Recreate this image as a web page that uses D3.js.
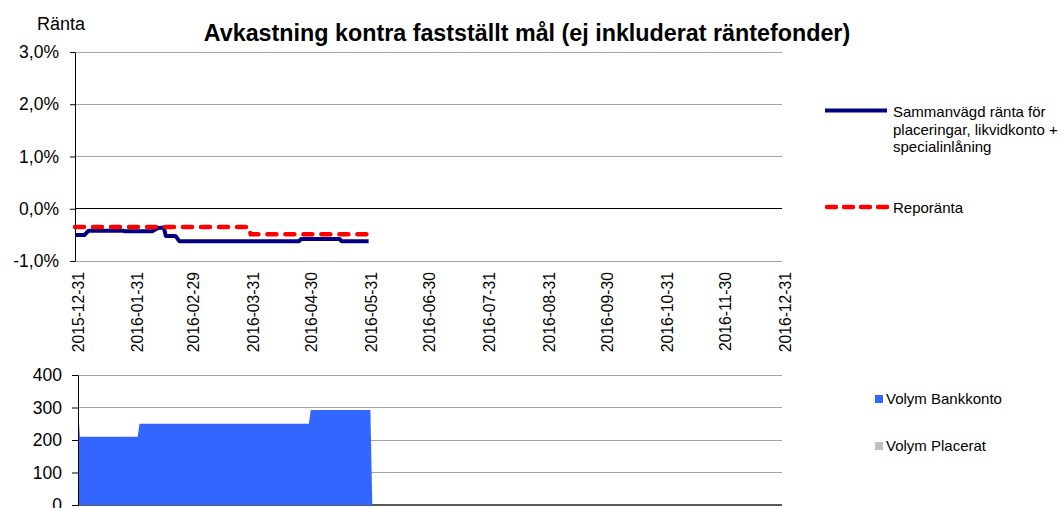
<!DOCTYPE html>
<html><head><meta charset="utf-8">
<script src="https://cdn.jsdelivr.net/npm/d3@7"></script>
<style>
body{margin:0;background:#fff;}
svg{display:block;font-family:"Liberation Sans",Arial,sans-serif;}
</style></head>
<body><svg id="c" width="1063" height="508"></svg>
<script>
// ---- data ----
const title = "Avkastning kontra fastställt mål (ej inkluderat räntefonder)";
const yTitle = "Ränta";
const xTickLabels = ["2015-12-31","2016-01-31","2016-02-29","2016-03-31","2016-04-30","2016-05-31","2016-06-30","2016-07-31","2016-08-31","2016-09-30","2016-10-31","2016-11-30","2016-12-31"];
const rateTicks = [-1, 0, 1, 2, 3];
const volTicks = [0, 100, 200, 300, 400];

const sammanvagdDates = ["2015-12-31","2016-01-05","2016-01-07","2016-01-25","2016-01-26","2016-02-09","2016-02-12","2016-02-15","2016-02-16","2016-02-21","2016-02-23","2016-04-25","2016-04-26","2016-05-16","2016-05-17","2016-05-31"];
const sammanvagdValues = [-0.50,-0.50,-0.42,-0.42,-0.43,-0.43,-0.37,-0.36,-0.52,-0.52,-0.62,-0.62,-0.58,-0.58,-0.62,-0.62];

const repoDates = ["2015-12-31","2016-03-30","2016-03-31","2016-05-31"];
const repoValues = [-0.35,-0.35,-0.49,-0.49];

const volDates = ["2015-12-31","2016-01-01","2016-01-31","2016-02-01","2016-04-29","2016-04-30","2016-05-31","2016-06-01"];
const volBankkonto = [300,210,210,250,250,292,292,0];

const legendTop = [
  {lines:["Sammanvägd ränta för","placeringar, likvidkonto +","specialinlåning"], color:"#000080", dash:null},
  {lines:["Reporänta"], color:"#FF0000", dash:"9,9"}
];
const legendBottom = [
  {label:"Volym Bankkonto", color:"#3366FF"},
  {label:"Volym Placerat", color:"#C0C0C0"}
];

// ---- drawing ----
const parse = d3.utcParse("%Y-%m-%d");
const svg = d3.select("#c");
const xDomain = [parse(xTickLabels[0]), parse(xTickLabels[xTickLabels.length-1])];

// top chart
const xTop = d3.scaleUtc().domain(xDomain).range([75, 782]);
const yTop = d3.scaleLinear().domain([-1, 3]).range([261, 52]);
const fmtPct = d => d.toFixed(1).replace(".", ",") + "%";

svg.append("text").attr("x", 527).attr("y", 41).attr("text-anchor","middle")
  .attr("font-size", 23.3).attr("font-weight","bold").text(title);
svg.append("text").attr("x", 37).attr("y", 30).attr("font-size", 18).text(yTitle);

// gridlines
svg.append("g").selectAll("line").data(rateTicks).join("line")
  .attr("x1", 75).attr("x2", 782)
  .attr("y1", d => yTop(d)).attr("y2", d => yTop(d))
  .attr("stroke", d => d === 0 ? "#000" : "#A6A6A6").attr("stroke-width", 1)
  .attr("shape-rendering","crispEdges");

const yAxT = svg.append("g").attr("transform","translate(75,0)")
  .call(d3.axisLeft(yTop).tickValues(rateTicks).tickFormat(fmtPct).tickSize(5).tickSizeOuter(0));
yAxT.select(".domain").attr("stroke","#000");
yAxT.selectAll(".tick line").attr("stroke","#000");
yAxT.selectAll("text").attr("font-size", 17.5).attr("fill","#000").attr("x", -16)
  .attr("font-family","Liberation Sans, Arial, sans-serif");

// x labels
const xAx = svg.append("g").attr("transform","translate(0,261)")
  .call(d3.axisBottom(xTop).tickValues(xTickLabels.map(parse)).tickFormat(d3.utcFormat("%Y-%m-%d")).tickSize(0));
xAx.select(".domain").remove();
xAx.selectAll("text").attr("font-size", 15.7).attr("fill","#000")
  .attr("font-family","Liberation Sans, Arial, sans-serif")
  .attr("transform","rotate(-90)").attr("text-anchor","end")
  .attr("x", -11).attr("y", 0).attr("dy","0.35em").attr("dx", 0);
xAx.selectAll(".tick").attr("transform", d => `translate(${xTop(d)+3},0)`);

const lineGen = d3.line().x(d => xTop(d[0])).y(d => yTop(d[1]));
const sData = sammanvagdDates.map((d,i) => [parse(d), sammanvagdValues[i]]);
const rData = repoDates.map((d,i) => [parse(d), repoValues[i]]);
svg.append("path").attr("d", lineGen(sData)).attr("fill","none")
  .attr("stroke","#000080").attr("stroke-width",4).attr("stroke-linejoin","round");
svg.append("path").attr("d", lineGen(rData)).attr("fill","none")
  .attr("stroke","#FF0000").attr("stroke-width",4.5).attr("stroke-dasharray","9,9").attr("stroke-linecap","round");

// top legend
const lg = svg.append("g");
lg.append("line").attr("x1",825).attr("x2",887).attr("y1",110.5).attr("y2",110.5)
  .attr("stroke", legendTop[0].color).attr("stroke-width",4);
const t0 = lg.append("text").attr("x",893).attr("y",117).attr("font-size",15);
legendTop[0].lines.forEach((l,i) => t0.append("tspan").attr("x",893).attr("y",117 + i*17.5).text(l));
lg.append("line").attr("x1",827).attr("x2",887).attr("y1",207).attr("y2",207)
  .attr("stroke", legendTop[1].color).attr("stroke-width",4.5).attr("stroke-dasharray","9,8").attr("stroke-linecap","round");
lg.append("text").attr("x",893).attr("y",212.5).attr("font-size",15).text(legendTop[1].lines[0]);

// bottom chart
const xBot = d3.scaleUtc().domain(xDomain).range([78, 782]);
const yBot = d3.scaleLinear().domain([0, 400]).range([505, 375]);
svg.append("g").selectAll("line").data(volTicks).join("line")
  .attr("x1", 78).attr("x2", 782)
  .attr("y1", d => yBot(d)).attr("y2", d => yBot(d))
  .attr("stroke", d => d === 0 ? "#595959" : "#A6A6A6").attr("stroke-width", d => d===0?1.5:1)
  .attr("shape-rendering","crispEdges");
const vData = volDates.map((d,i) => [parse(d), volBankkonto[i]]);
svg.append("path").attr("d", d3.area().x(d => xBot(d[0])).y0(yBot(0)).y1(d => yBot(d[1]))(vData))
  .attr("fill","#3366FF");
const yAxB = svg.append("g").attr("transform","translate(78,0)")
  .call(d3.axisLeft(yBot).tickValues(volTicks).tickSize(6).tickSizeOuter(0));
yAxB.select(".domain").attr("stroke","#000");
yAxB.selectAll(".tick line").attr("stroke","#000");
yAxB.selectAll("text").attr("font-size", 17.5).attr("fill","#000").attr("x", -16)
  .attr("font-family","Liberation Sans, Arial, sans-serif");

// bottom legend
legendBottom.forEach((l,i) => {
  const y = 399 + i*47;
  svg.append("rect").attr("x",875).attr("y",y-4).attr("width",8).attr("height",8).attr("fill",l.color);
  svg.append("text").attr("x",886).attr("y",y+5).attr("font-size",15).text(l.label);
});
</script></body></html>
